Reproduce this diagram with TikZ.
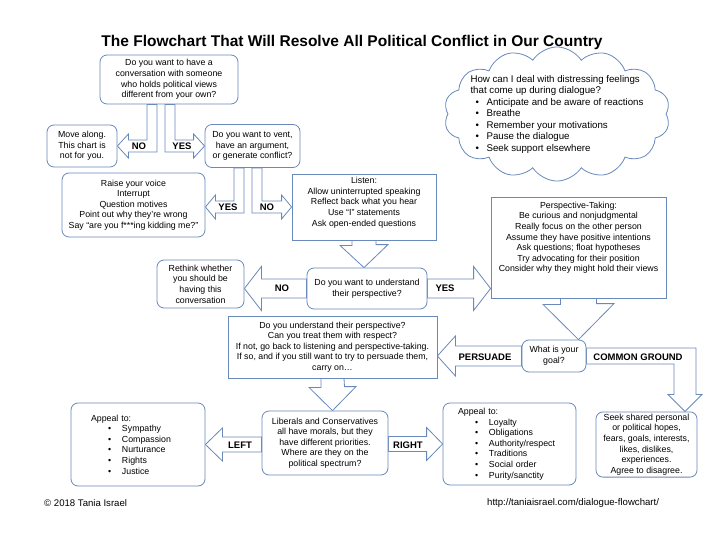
\documentclass[tikz,border=0pt]{standalone}
\usepackage{fontspec}
\setmainfont{Liberation Sans}
\usetikzlibrary{
  shapes.symbols,
  positioning, calc, backgrounds
}
\definecolor{edgeblue}{RGB}{104,137,186}
\newcommand{\boxfont}{\fontsize{8.8}{10.6}\selectfont}
\newcommand{\cloudfont}{\fontsize{9.7}{11.5}\selectfont}
\newcommand{\cbul}{\hspace*{5pt}\makebox[11pt][l]{\textbullet}}
\newcommand{\abul}{\hspace*{17pt}\makebox[14pt][l]{\textbullet}}
\tikzset{
  rbox/.style={rectangle,rounded corners=7pt,draw=edgeblue,fill=white,line width=0.8pt,
    align=center,font=\boxfont,inner sep=2pt},
  sbox/.style={rectangle,draw=edgeblue,fill=white,line width=0.8pt,
    align=center,font=\boxfont,inner sep=2pt},
  blk/.style={draw=edgeblue,fill=white,line width=0.8pt,line join=miter},
  lbl/.style={font=\fontsize{9.5}{11}\selectfont\bfseries,inner sep=1pt},
  foot/.style={font=\fontsize{9.6}{11}\selectfont,anchor=west,inner sep=0pt}
}

\begin{document}
\begin{tikzpicture}[x=1pt,y=-1pt]
  \useasboundingbox (0,0) rectangle (720,540);

  % Title
  \node[font=\fontsize{15.5}{18}\selectfont\bfseries] (title) at (352,42)
    {The Flowchart That Will Resolve All Political Conflict in Our Country};

  % Opening questions
  \node[rbox,minimum width=138pt,minimum height=49pt] (q1) at (169,79.5)
    {Do you want to have a\\conversation with someone\\who holds political views\\different from your own?};
  \node[rbox,minimum width=70pt,minimum height=42pt] (move) at (82,146)
    {Move along.\\This chart is\\not for you.};
  \node[rbox,minimum width=95pt,minimum height=43pt] (vent) at (252.5,146)
    {Do you want to vent,\\have an argument,\\or generate conflict?};

  % Vent or listen
  \node[rbox,minimum width=143pt,minimum height=64pt] (raise) at (133.5,205)
    {Raise your voice\\Interrupt\\Question motives\\Point out why they’re wrong\\Say “are you f***ing kidding me?”};
  \node[sbox,minimum width=144pt,minimum height=66pt] (listen) at (364,207)
    {Listen:\\Allow uninterrupted speaking\\Reflect back what you hear\\Use “I” statements\\Ask open-ended questions\\ \mbox{}};

  % Understanding
  \node[rbox,minimum width=120pt,minimum height=41pt] (q3) at (367,288.5)
    {Do you want to understand\\their perspective?};
  \node[rbox,minimum width=87pt,minimum height=48pt] (rethink) at (200.5,284)
    {Rethink whether\\you should be\\having this\\conversation};
  \node[sbox,minimum width=175pt,minimum height=101pt] (persp) at (578.5,247.5)
    {Perspective-Taking:\\Be curious and nonjudgmental\\Really focus on the other person\\Assume they have positive intentions\\Ask questions; float hypotheses\\Try advocating for their position\\Consider why they might hold their views\\ \mbox{}\\ \mbox{}};

  % Cloud
  \node[cloud,cloud puffs=14,cloud puff arc=115,aspect=1.8,draw=edgeblue,fill=white,line width=0.8pt,
    minimum width=226pt,minimum height=124pt,inner sep=-15pt,align=left,font=\cloudfont]
    (feel) at (557,114)
    {How can I deal with distressing feelings\\that come up during dialogue?\\
     \cbul Anticipate and be aware of reactions\\\cbul Breathe\\\cbul Remember your motivations\\
     \cbul Pause the dialogue\\\cbul Seek support elsewhere};

  % Goal
  \node[rbox,minimum width=64pt,minimum height=32pt] (goal) at (554,356)
    {What is your\\goal?};
  \node[sbox,minimum width=209pt,minimum height=62pt] (understand) at (332.5,347)
    {Do you understand their perspective?\\Can you treat them with respect?\\If not, go back to listening and perspective-taking.\\If so, and if you still want to try to persuade them,\\carry on…};
  \node[rbox,minimum width=101pt,minimum height=65pt] (seek) at (646.5,444.5)
    {Seek shared personal\\or political hopes,\\fears, goals, interests,\\likes, dislikes,\\experiences.\\Agree to disagree.};

  % Political spectrum
  \node[rbox,minimum width=126pt,minimum height=64pt] (lib) at (325,443)
    {Liberals and Conservatives\\all have morals, but they\\have different priorities.\\Where are they on the\\political spectrum?};
  \node[rbox,align=left,text width=94pt,inner xsep=20pt,minimum height=83pt] (leftapp) at (138,444.5)
    {Appeal to:\\\abul Sympathy\\\abul Compassion\\\abul Nurturance\\\abul Rights\\\abul Justice};
  \node[rbox,align=left,text width=103pt,inner xsep=15pt,minimum height=82pt] (rightapp) at (509.5,444)
    {Appeal to:\\\abul Loyalty\\\abul Obligations\\\abul Authority/respect\\\abul Traditions\\\abul Social order\\\abul Purity/sanctity};

  % Footer
  \node[foot] (copy) at (44,503) {© 2018 Tania Israel};
  \node[foot] (url) at (487,503) {http://taniaisrael.com/dialogue-flowchart/};

  % Block arrows
  \coordinate (ventyes) at ($(raise.east)+(0,2)$);
  \coordinate (listenin) at (listen.west |- ventyes);
  \coordinate (q3top) at (listen.south |- q3.north);
  \coordinate (q3no) at (rethink.east |- q3.west);
  \coordinate (q3yes) at (persp.west |- q3.east);
  \coordinate (goaltop) at (persp.south |- goal.north);
  \coordinate (persuadetip) at (understand.east |- goal.west);
  \coordinate (commontip) at ($(seek.north)+(38.5,0)$);
  \coordinate (libtop) at (understand.south |- lib.north);
  \coordinate (libleft) at (lib.west |- leftapp.east);
  \coordinate (libright) at (lib.east |- rightapp.west);

  \begin{scope}[on background layer]
    \draw[blk] ($(q1.south)+(-22,0)$) |- ($(move.east)+(11,-6)$) -- ++(0,-6) -- (move.east)
      -- ++(11,12) -- ++(0,-6) -| ($(q1.south)+(-12,0)$) -- cycle;
    \draw[blk] ($(q1.south)+(-4,0)$) |- ($(vent.west)+(-11,6)$) -- ++(0,6) -- (vent.west)
      -- ++(-11,-12) -- ++(0,6) -| ($(q1.south)+(6,0)$) -- cycle;
    \draw[blk] ($(vent.south)+(-18.5,0)$) |- ($(ventyes)+(10,-6)$) -- ++(0,-6) -- (ventyes)
      -- ++(10,12) -- ++(0,-6) -| ($(vent.south)+(-8.5,0)$) -- cycle;
    \draw[blk] ($(vent.south)+(-0.5,0)$) |- ($(listenin)+(-10,6)$) -- ++(0,6) -- (listenin)
      -- ++(-10,-12) -- ++(0,6) -| ($(vent.south)+(9.5,0)$) -- cycle;
    \draw[blk] ($(listen.south)+(-12,0)$) -- ++(0,5) -- ++(-12,0) -- (q3top)
      -- ++(24,-23) -- ++(-12,0) -- ($(listen.south)+(12,0)$) -- cycle;
    \draw[blk] ($(q3.west)+(0,-9.5)$) -- ($(q3no)+(17,-9.5)$) -- ++(0,-12.5) -- (q3no)
      -- ++(17,22) -- ++(0,-12.5) -- ($(q3.west)+(0,9.5)$) -- cycle;
    \draw[blk] ($(q3.east)+(0,-9.5)$) -- ($(q3yes)+(-17,-9.5)$) -- ++(0,-12.5) -- (q3yes)
      -- ++(-17,22) -- ++(0,-12.5) -- ($(q3.east)+(0,9.5)$) -- cycle;
    \draw[blk] ($(persp.south)+(-18,0)$) -- ++(0,6) -- ++(-17.5,0) -- (goaltop)
      -- ++(35.5,-36) -- ++(-17.5,0) -- ($(persp.south)+(18,0)$) -- cycle;
    \draw[blk] ($(goal.west)+(0,-10)$) -- ($(persuadetip)+(18,-10)$) -- ++(0,-10) -- (persuadetip)
      -- ++(18,20) -- ++(0,-10) -- ($(goal.west)+(0,10)$) -- cycle;
    \draw[blk] ($(goal.east)+(0,-8)$) -| ($(commontip)+(11,-17)$) -- ++(6,0) -- (commontip)
      -- ++(-17,-17) -- ++(6,0) |- ($(goal.east)+(0,8)$) -- cycle;
    \draw[blk] ($(understand.south)+(-11.5,0)$) -- ++(0,9) -- ++(-12,0) -- (libtop)
      -- ++(23.5,-24) -- ++(-11.5,0) -- ($(understand.south)+(11.5,0)$) -- cycle;
    \draw[blk] ($(libleft)+(0,-7.5)$) -- ($(leftapp.east)+(17,-7.5)$) -- ++(0,-9) -- (leftapp.east)
      -- ++(17,16.5) -- ++(0,-9) -- ($(libleft)+(0,7.5)$) -- cycle;
    \draw[blk] ($(libright)+(0,-7.5)$) -- ($(rightapp.west)+(-16,-7.5)$) -- ++(0,-9) -- (rightapp.west)
      -- ++(-16,16.5) -- ++(0,-9) -- ($(libright)+(0,7.5)$) -- cycle;
  \end{scope}

  % Arrow labels
  \node[lbl] (noa) at (139,146) {NO};
  \node[lbl] (yesa) at (182,146) {YES};
  \node[lbl] (yesb) at (228,207) {YES};
  \node[lbl] (nob) at (267,207) {NO};
  \node[lbl] (noc) at (282,288.5) {NO};
  \node[lbl] (yesc) at (445,288.5) {YES};
  \node[lbl] (persuade) at (485,357) {PERSUADE};
  \node[lbl] (common) at (638,357) {COMMON GROUND};
  \node[lbl] (leftl) at (240,445) {LEFT};
  \node[lbl] (rightl) at (408,445) {RIGHT};

\end{tikzpicture}
\end{document}
